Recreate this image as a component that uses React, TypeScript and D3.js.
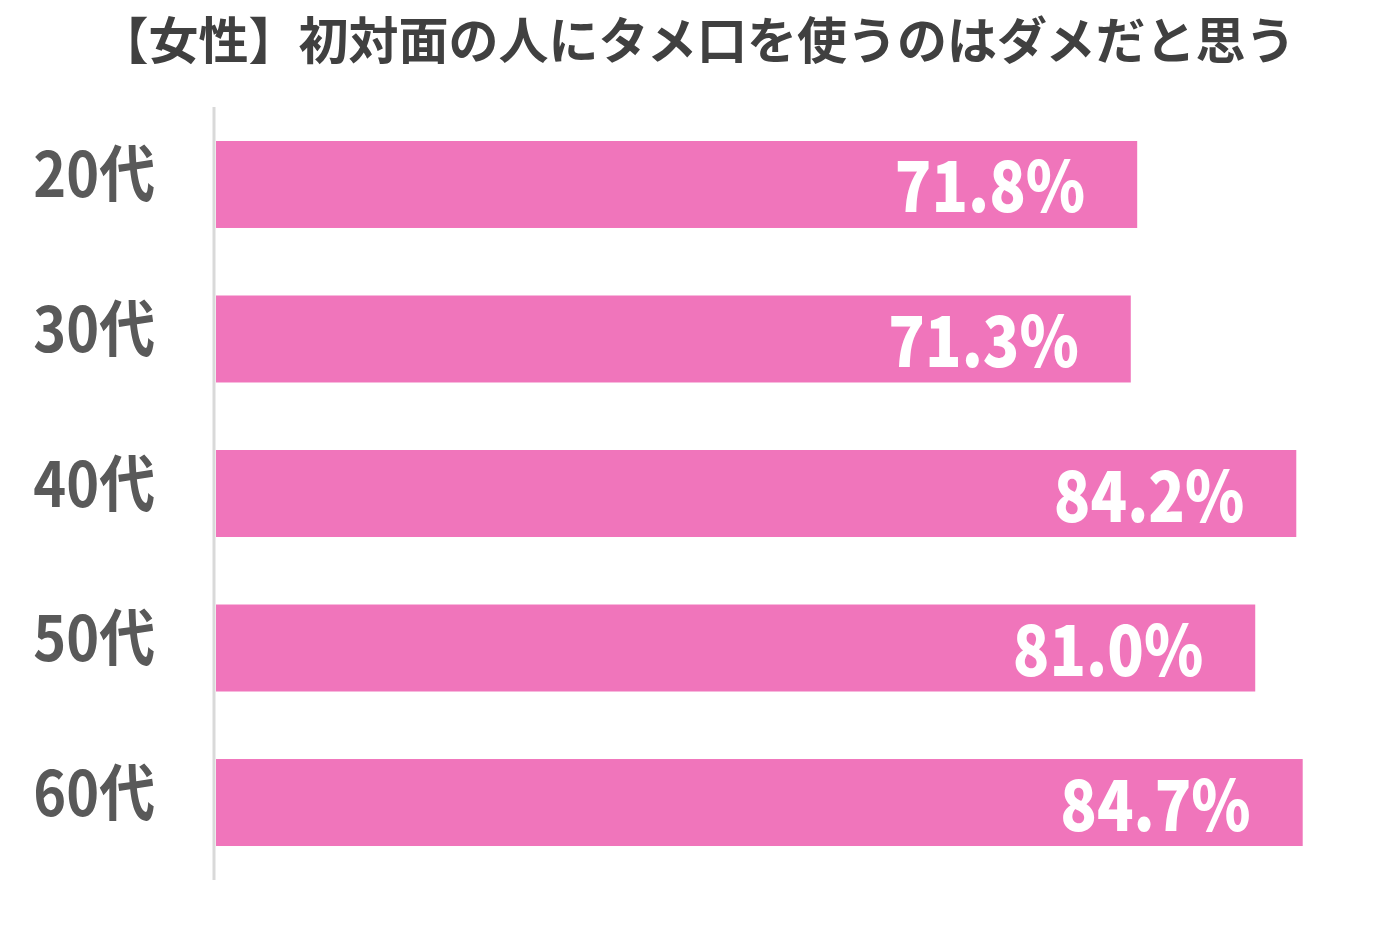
import React, { useRef, useEffect } from 'react';
import * as d3 from 'd3';

const title = '【女性】初対面の人にタメ口を使うのはダメだと思う';
const categories = ['20代', '30代', '40代', '50代', '60代'];
const values = [71.8, 71.3, 84.2, 81.0, 84.7];

const W = 1378;
const H = 933;
const FONT = '"Noto Sans CJK JP", "Noto Sans", sans-serif';

const App: React.FC = () => {
  const svgRef = useRef<SVGSVGElement>(null);

  useEffect(() => {
    if (!svgRef.current) return;
    const svg = d3.select(svgRef.current);
    svg.selectAll('*').remove();

    const x = d3.scaleLinear().domain([0, 100]).range([216, 1499]);
    const y = d3.scaleBand<string>()
      .domain(categories)
      .range([107, 880])
      .paddingInner(0.437)
      .paddingOuter(0.22);

    svg.append('rect').attr('width', W).attr('height', H).attr('fill', '#fff');

    // title
    svg.append('text')
      .attr('x', 697)
      .attr('y', 59)
      .attr('text-anchor', 'middle')
      .attr('font-family', FONT)
      .attr('font-weight', 700)
      .attr('font-size', 50)
      .attr('fill', '#404040')
      .text(title);

    // axis line
    svg.append('line')
      .attr('x1', 214).attr('x2', 214)
      .attr('y1', 107).attr('y2', 880)
      .attr('stroke', '#d9d9d9')
      .attr('stroke-width', 3);

    const rows = categories.map((c, i) => ({ c, v: values[i] }));

    svg.selectAll('rect.bar')
      .data(rows)
      .enter()
      .append('rect')
      .attr('class', 'bar')
      .attr('x', x(0))
      .attr('y', d => y(d.c)!)
      .attr('width', d => x(d.v) - x(0))
      .attr('height', y.bandwidth())
      .attr('fill', '#f075bb');

    // value labels inside bars (slightly condensed, like the original font)
    svg.selectAll('text.val')
      .data(rows)
      .enter()
      .append('text')
      .attr('class', 'val')
      .attr('transform', d =>
        `translate(${x(d.v) - 52},${y(d.c)! + y.bandwidth() / 2 + 28}) scale(0.86,1)`)
      .attr('text-anchor', 'end')
      .attr('font-family', FONT)
      .attr('font-weight', 900)
      .attr('font-size', 70)
      .attr('fill', '#fff')
      .text(d => d.v.toFixed(1) + '%');

    // category labels
    svg.selectAll('text.cat')
      .data(rows)
      .enter()
      .append('text')
      .attr('class', 'cat')
      .attr('transform', d =>
        `translate(155,${y(d.c)! + y.bandwidth() / 2 + 13}) scale(0.9,1)`)
      .attr('text-anchor', 'end')
      .attr('font-family', FONT)
      .attr('font-weight', 700)
      .attr('font-size', 62)
      .attr('fill', '#595959')
      .text(d => d.c);
  }, []);

  return (
    <svg
      ref={svgRef}
      width={W}
      height={H}
      style={{ position: 'absolute', left: 0, top: 0 }}
    />
  );
};

export default App;
